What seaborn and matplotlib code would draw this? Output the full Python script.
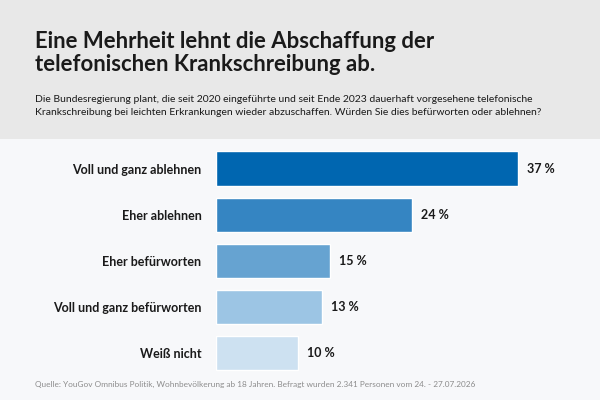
import matplotlib
matplotlib.use('Agg')
import matplotlib.pyplot as plt
from matplotlib.patches import Rectangle
import seaborn as sns
import pandas as pd

# data
answers = ['Voll und ganz ablehnen', 'Eher ablehnen', 'Eher befürworten',
           'Voll und ganz befürworten', 'Weiß nicht']
shares = [37, 24, 14, 13, 10]
share_labels = ['37 %', '24 %', '15 %', '13 %', '10 %']
bar_colors = ['#0066b0', '#3585c2', '#66a3d1', '#9cc5e4', '#cde1f1']

df = pd.DataFrame({'answer': answers, 'share': shares})

sns.set_theme(style='white')
plt.rcParams['font.family'] = ['Lato', 'DejaVu Sans']

fig = plt.figure(figsize=(6, 4), dpi=100, facecolor='#f7f8fa')
# grey header band
fig.add_artist(Rectangle((0, 1 - 139 / 400), 1, 139 / 400, transform=fig.transFigure,
                         facecolor='#e8e8e8', edgecolor='none', zorder=0))

ax = fig.add_axes([216 / 600, 1 - 376 / 400, 324 / 600, 230.5 / 400])
ax.set_facecolor('none')
sns.barplot(data=df, y='answer', x='share', hue='answer', palette=bar_colors,
            legend=False, orient='h', width=0.74, saturation=1, ax=ax)
ax.set_xlim(0, 324 / 8.155)
ax.set_ylim(4.5, -0.5)
for c, lab in zip(ax.containers, share_labels):
    ax.bar_label(c, labels=[lab], padding=6.5, fontsize=9, fontweight='bold', color='#1a1a1a')
ax.set_xlabel('')
ax.set_ylabel('')
ax.set_xticks([])
ax.tick_params(axis='y', length=0, pad=10.5)
for t in ax.get_yticklabels():
    t.set_fontsize(9)
    t.set_fontweight('bold')
    t.set_color('#1a1a1a')
sns.despine(ax=ax, left=True, bottom=True)

fig.text(35 / 600, 1 - 48 / 400, 'Eine Mehrheit lehnt die Abschaffung der',
         fontsize=15.9, fontweight='bold', color='#1a1a1a', va='baseline')
fig.text(35 / 600, 1 - 71 / 400, 'telefonischen Krankschreibung ab.',
         fontsize=15.9, fontweight='bold', color='#1a1a1a', va='baseline')
fig.text(35 / 600, 1 - 102 / 400,
         'Die Bundesregierung plant, die seit 2020 eingeführte und seit Ende 2023 dauerhaft vorgesehene telefonische',
         fontsize=7.5, color='#1a1a1a', va='baseline')
fig.text(35 / 600, 1 - 115 / 400,
         'Krankschreibung bei leichten Erkrankungen wieder abzuschaffen. Würden Sie dies befürworten oder ablehnen?',
         fontsize=7.5, color='#1a1a1a', va='baseline')
fig.text(35 / 600, 1 - 387 / 400,
         'Quelle: YouGov Omnibus Politik, Wohnbevölkerung ab 18 Jahren. Befragt wurden 2.341 Personen vom 24. - 27.07.2026',
         fontsize=5.95, color='#8c8c8c', va='baseline')

fig.savefig('out.png', dpi=100, facecolor=fig.get_facecolor())
